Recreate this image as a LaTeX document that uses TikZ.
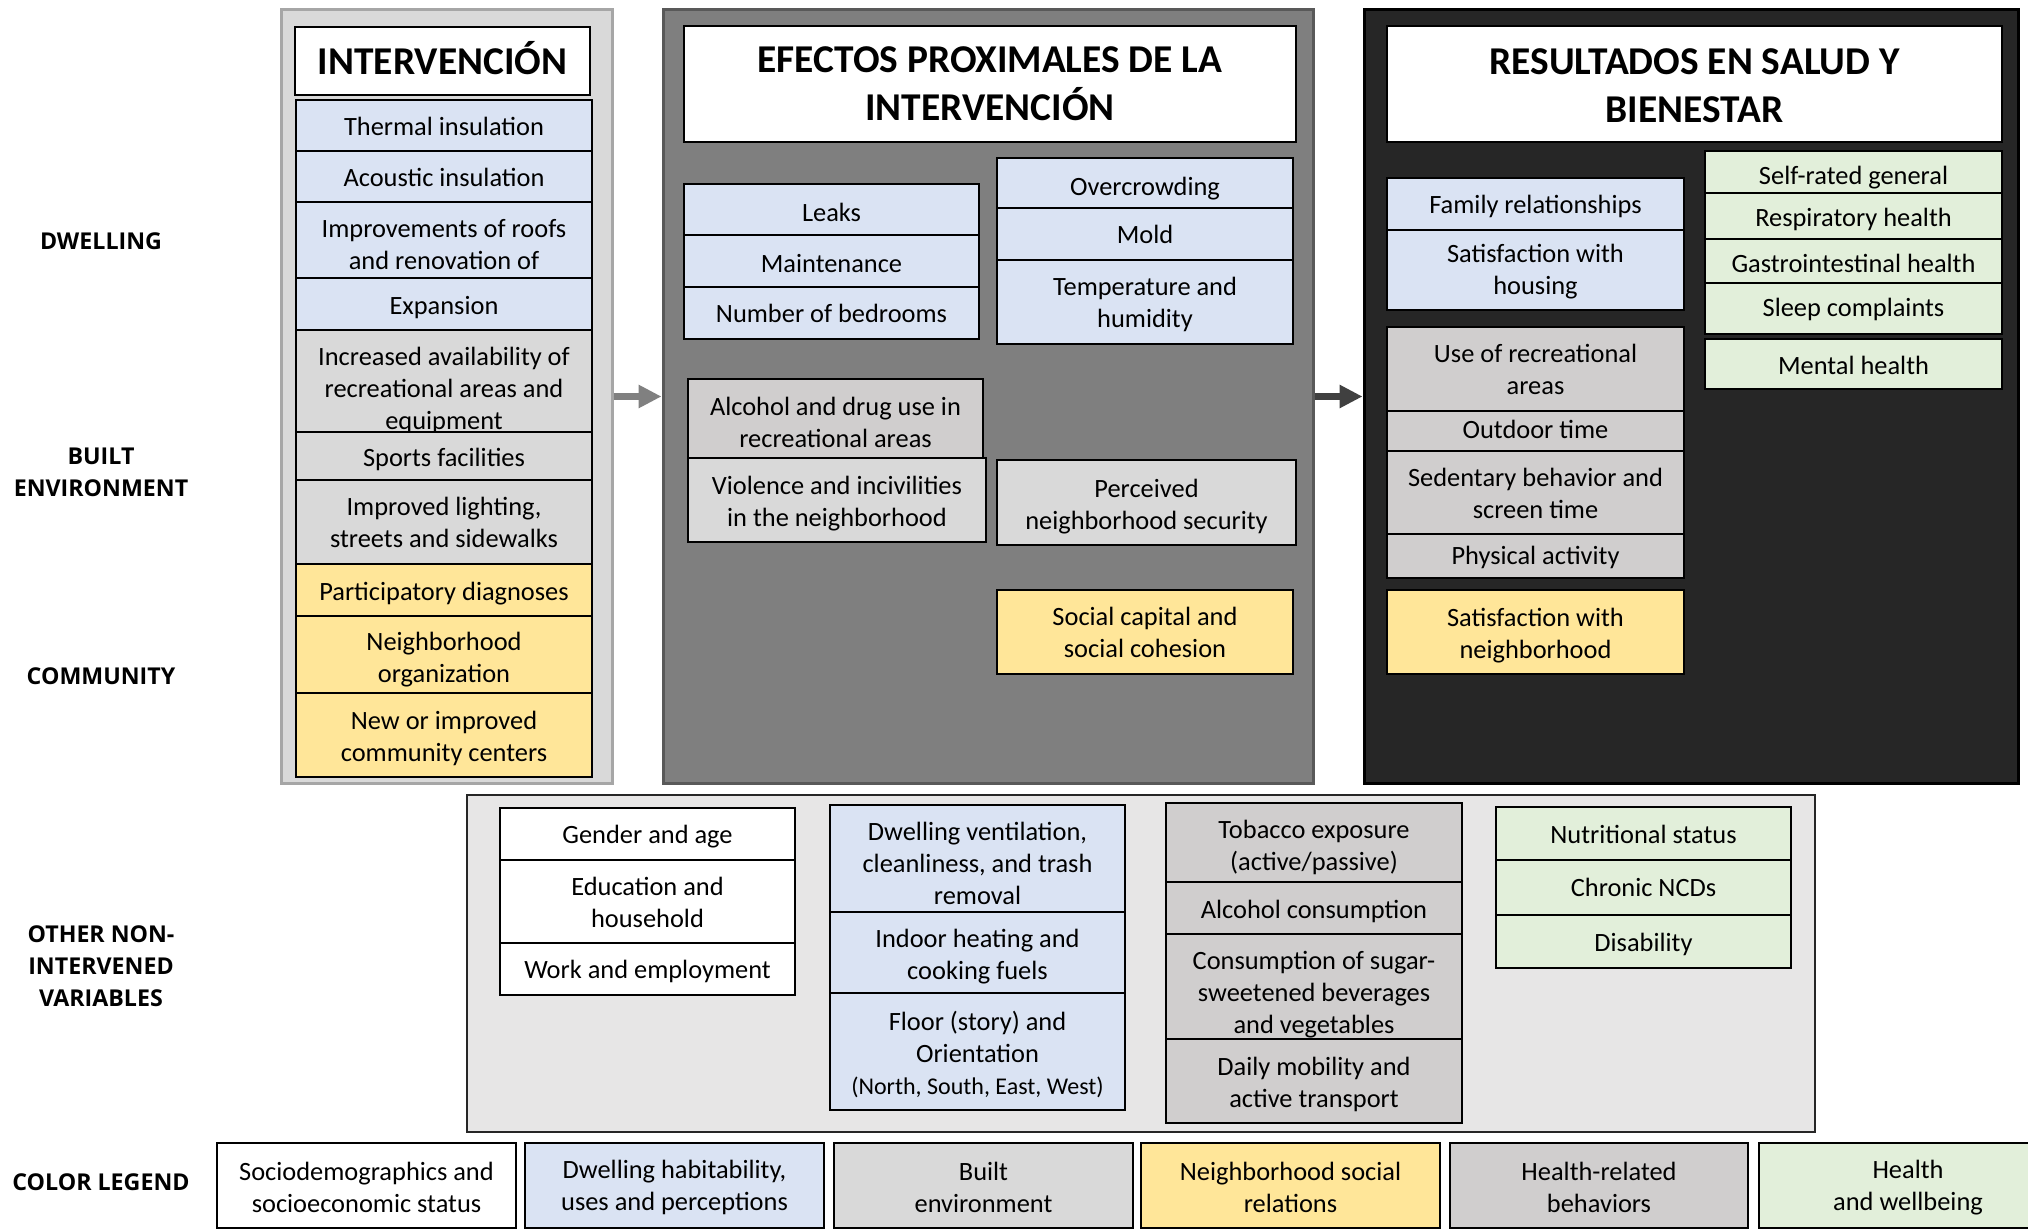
\documentclass[tikz,border=0pt]{standalone}
\usepackage{fontspec}
\setmainfont{Carlito}
\newfontfamily\labfont{Open Sans}
\usetikzlibrary{arrows.meta}
\definecolor{cblue}{HTML}{DAE3F3}
\definecolor{cgray}{HTML}{D9D9D9}
\definecolor{cbeh}{HTML}{D0CECE}
\definecolor{cyel}{HTML}{FFE699}
\definecolor{cgreen}{HTML}{E2EFDA}
\definecolor{cpanelA}{HTML}{D9D9D9}
\definecolor{cpanelB}{HTML}{7F7F7F}
\definecolor{cpanelC}{HTML}{262626}
\definecolor{cother}{HTML}{E7E6E6}
% \bx[text offset]{name}{style}{x1}{y1}{x2}{y2}{text}
\newcommand\bx[8][0]{%
  \pgfmathsetmacro\mybw{(#6-#4)*0.5}%
  \pgfmathsetmacro\mybh{(#7-#5)*0.5}%
  \pgfmathsetmacro\myoff{-(#1)*0.647}%
  \node[#3,minimum width=\mybw pt,minimum height=\mybh pt] (#2) at ({(#4+#6)/2},{(#5+#7)/2}) {};
  \node[itemtext,#3,draw=none,fill=none,minimum width=0pt,minimum height=0pt] (#2t) at ([yshift=\myoff pt]#2.center) {#8};}
\tikzset{
  itemtext/.style={align=center,inner sep=0pt,text=black,font=\fontsize{13.2}{16}\selectfont},
  itembox/.style={itemtext,draw=black,line width=1.4pt},
  cwhitebox/.style={itembox,fill=white},
  cbluebox/.style={itembox,fill=cblue},
  cgraybox/.style={itembox,fill=cgray},
  cbehbox/.style={itembox,fill=cbeh},
  cyelbox/.style={itembox,fill=cyel},
  cgreenbox/.style={itembox,fill=cgreen},
  titlebox/.style={itembox,fill=white,font=\bfseries\fontsize{19.7}{24}\selectfont},
  panelbox/.style={inner sep=0pt,line width=1.5pt},
  sidelabel/.style={align=center,inner sep=0pt,font=\labfont\bfseries\fontsize{11.6}{16}\selectfont},
  bigarrow/.style={line width=3.5pt,-{Triangle[length=11.5pt,width=11pt]}}
}
\begin{document}
\begin{tikzpicture}[x=0.5pt,y=-0.5pt]
\useasboundingbox (0,0) rectangle (2028,1230);
\fill[white] (0,0) rectangle (2028,1230);

% ---------- side labels ----------
\node[sidelabel] (lDw) at (101,241.5) {DWELLING};
\node[sidelabel] (lBu) at (101,472.5) {BUILT\\ENVIRONMENT};
\node[sidelabel] (lCo) at (101,676.5) {COMMUNITY};
\node[sidelabel] (lOt) at (101,966.5) {OTHER NON-\\INTERVENED\\VARIABLES};
\node[sidelabel] (lLe) at (101,1182) {COLOR LEGEND};

% ---------- panel 1 ----------
\bx{p1}{panelbox,fill=cpanelA,draw=black!35}{281}{10}{612}{783}{}
\bx[-2]{h1}{titlebox}{295}{27}{590}{95}{INTERVENCIÓN}
\bx[1]{a1}{cbluebox}{296}{100}{592}{151}{Thermal insulation}
\bx[1]{a2}{cbluebox}{296}{151}{592}{202}{Acoustic insulation}
\bx[3.5]{a3}{cbluebox}{296}{202}{592}{278}{Improvements of roofs\\and renovation of}
\bx[3]{a4}{cbluebox}{296}{278}{592}{330}{Expansion}
\bx[7.4]{a5}{cgraybox}{296}{330}{592}{432}{Increased availability of\\recreational areas and\\equipment}
\bx[3]{a6}{cgraybox}{296}{432}{592}{480}{Sports facilities}
\bx[0]{a7}{cgraybox}{296}{480}{592}{564}{Improved lighting,\\streets and sidewalks}
\bx[3]{a8}{cyelbox}{296}{564}{592}{616}{Participatory diagnoses}
\bx[4]{a9}{cyelbox}{296}{616}{592}{693}{Neighborhood\\organization}
\bx[3]{a10}{cyelbox}{296}{693}{592}{777}{New or improved\\community centers}

% ---------- panel 2 ----------
\bx{p2}{panelbox,fill=cpanelB,draw=black!65}{663}{10}{1313}{783}{}
\bx[0]{h2}{titlebox}{684}{26}{1296}{142}{EFECTOS PROXIMALES DE LA\\INTERVENCIÓN}
\bx[2]{b1}{cbluebox}{684}{184}{979}{235}{Leaks}
\bx[2]{b2}{cbluebox}{684}{235}{979}{287}{Maintenance}
\bx[0]{b3}{cbluebox}{684}{287}{979}{339}{Number of bedrooms}
\bx[4]{b4}{cbluebox}{997}{158}{1293}{208}{Overcrowding}
\bx[0]{b5}{cbluebox}{997}{208}{1293}{260}{Mold}
\bx[2]{b6}{cbluebox}{997}{260}{1293}{344}{Temperature and\\humidity}
\bx[3]{b7}{cbehbox}{688}{379}{983}{458}{Alcohol and drug use in\\recreational areas}
\bx[3]{b8}{cgraybox}{688}{458}{986}{542}{Violence and incivilities\\in the neighborhood}
\bx[3]{b9}{cgraybox}{997}{460}{1296}{545}{Perceived\\neighborhood security}
\bx[0.5]{b10}{cyelbox}{997}{590}{1293}{674}{Social capital and\\social cohesion}

% ---------- panel 3 ----------
\bx{p3}{panelbox,fill=cpanelC,draw=black}{1364}{10}{2018}{783}{}
\bx[1]{h3}{titlebox}{1387}{26}{2002}{142}{RESULTADOS EN SALUD Y\\BIENESTAR}
\bx[2]{c1}{cbluebox}{1387}{178}{1684}{230}{Family relationships}
\bx[1]{c2}{cbluebox}{1387}{230}{1684}{310}{Satisfaction with\\housing}
\bx[0]{c3}{cbehbox}{1387}{327}{1684}{411}{Use of recreational\\areas}
\bx[-1]{c4}{cbehbox}{1387}{411}{1684}{451}{Outdoor time}
\bx[1]{c5}{cbehbox}{1387}{451}{1684}{534}{Sedentary behavior and\\screen time}
\bx[1]{c6}{cbehbox}{1387}{534}{1684}{578}{Physical activity}
\bx[3]{c7}{cyelbox}{1387}{590}{1684}{674}{Satisfaction with\\neighborhood}
\bx[4]{d1}{cgreenbox}{1705}{151}{2002}{193}{Self-rated general}
\bx[3]{d2}{cgreenbox}{1705}{193}{2002}{239}{Respiratory health}
\bx[2]{d3}{cgreenbox}{1705}{239}{2002}{283}{Gastrointestinal health}
\bx[1]{d4}{cgreenbox}{1705}{283}{2002}{334}{Sleep complaints}
\bx[1]{d5}{cgreenbox}{1705}{339}{2002}{389}{Mental health}

% ---------- arrows ----------
\draw[bigarrow,draw=black!50,fill=black!50] (p1.east) -- (p2.west);
\draw[bigarrow,draw=black!75,fill=black!75] (p2.east) -- (p3.west);

% ---------- other non-intervened variables ----------
\bx{p4}{panelbox,fill=cother,draw=black!85,line width=1.3pt}{467}{795}{1815}{1132}{}
\bx[2]{e1}{cwhitebox}{500}{808}{795}{860}{Gender and age}
\bx[1]{e2}{cwhitebox}{500}{860}{795}{943}{Education and\\household}
\bx[2]{e3}{cwhitebox}{500}{943}{795}{995}{Work and employment}
\bx[4]{f1}{cbluebox}{830}{805}{1125}{912}{Dwelling ventilation,\\cleanliness, and trash\\removal}
\bx[3.5]{f2}{cbluebox}{830}{912}{1125}{993}{Indoor heating and\\cooking fuels}
\bx[2]{f3}{cbluebox}{830}{993}{1125}{1110}{Floor (story) and\\Orientation\\{\fontsize{12}{16}\selectfont(North, South, East, West)}}
\bx[4]{g1}{cbehbox}{1166}{803}{1462}{882}{Tobacco exposure\\(active/passive)}
\bx[3]{g2}{cbehbox}{1166}{882}{1462}{934}{Alcohol consumption}
\bx[6]{g3}{cbehbox}{1166}{934}{1462}{1039}{Consumption of sugar-\\sweetened beverages\\and vegetables}
\bx[3]{g4}{cbehbox}{1166}{1039}{1462}{1123}{Daily mobility and\\active transport}
\bx[1]{k1}{cgreenbox}{1496}{807}{1791}{860}{Nutritional status}
\bx[0]{k2}{cgreenbox}{1496}{860}{1791}{915}{Chronic NCDs}
\bx[2]{k3}{cgreenbox}{1496}{915}{1791}{968}{Disability}

% ---------- legend ----------
\bx[1.5]{m1}{cwhitebox}{217}{1143}{516}{1228}{Sociodemographics and\\socioeconomic status}
\bx[1.5]{m2}{cbluebox}{525}{1143}{824}{1228}{Dwelling habitability,\\uses and perceptions}
\bx[1.5]{m3}{cgraybox}{834}{1143}{1133}{1228}{Built\\environment}
\bx[1.5]{m4}{cyelbox}{1141}{1143}{1440}{1228}{Neighborhood social\\relations}
\bx[1.5]{m5}{cbehbox}{1450}{1143}{1748}{1228}{Health-related\\behaviors}
\bx[1.5]{m6}{cgreenbox}{1759}{1143}{2057}{1228}{Health\\and wellbeing}
\end{tikzpicture}
\end{document}
